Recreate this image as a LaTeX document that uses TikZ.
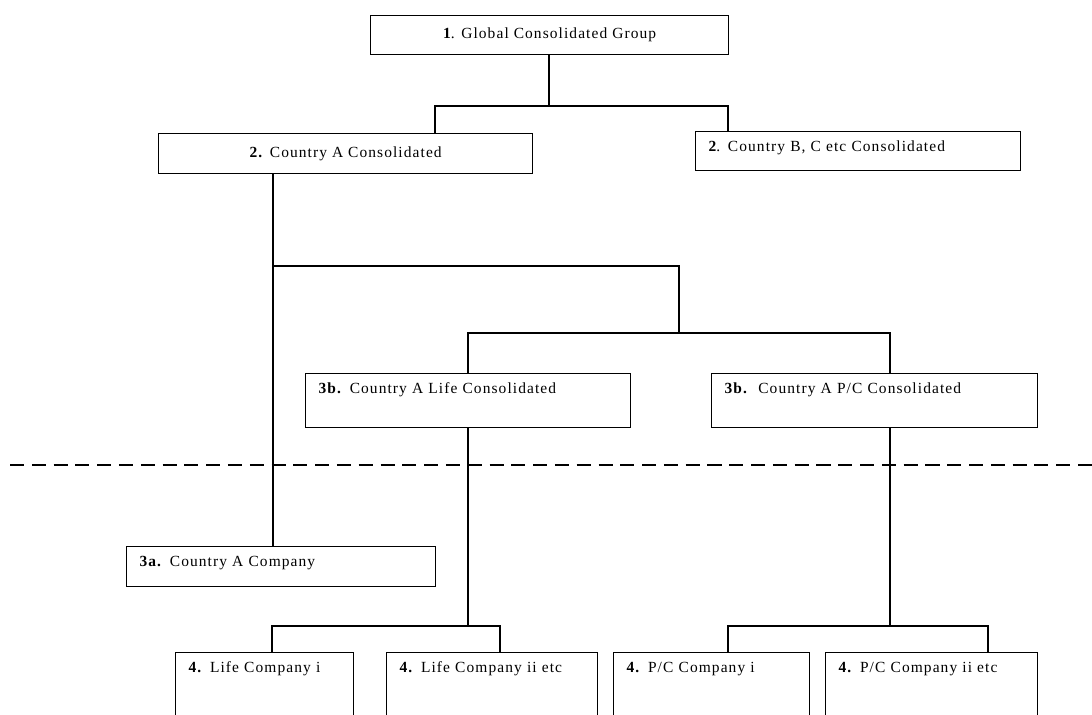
\documentclass[tikz,border=0pt]{standalone}
\usepackage{fontspec}
\setmainfont{Liberation Serif}[LetterSpace=7]
\usepackage{tikz}

\begin{document}
\begin{tikzpicture}[x=0.025cm, y=-0.025cm,
    every node/.style={font=\fontsize{11pt}{13pt}\selectfont},
    link/.style={line width=0.8pt},
    midbox/.style 2 args={draw, line width=0.8pt, anchor=north west, inner sep=0pt,
        minimum width=#1, minimum height=#2},
    leftbox/.style 2 args={draw, line width=0.8pt, anchor=north west, inner xsep=0.325cm,
        inner ysep=0pt, align=left, text height=0.5cm, text width=#1, text depth=#2}]
                \useasboundingbox (0,0) rectangle (1092,715);
                \clip (0,0) rectangle (1092,715);

                % Group level
                \node[midbox={8.95cm}{0.975cm}] (global) at (370,15) {\textbf{1}. Global Consolidated Group};
                \node[midbox={9.35cm}{1.0cm}] (ctryA) at (158,133) {\textbf{2.} Country A Consolidated};
                \node[leftbox={7.475cm}{0.475cm}] (ctryB) at (695,131) {\textbf{2}. Country B, C etc Consolidated};

                % Country A sub-groups
                \node[leftbox={7.475cm}{0.85cm}] (lifeA) at (305,373) {\textbf{3b.} Country A Life Consolidated};
                \node[leftbox={7.5cm}{0.85cm}] (pcA) at (711,373) {\textbf{3b.}\ \ Country A P/C Consolidated};
                \node[leftbox={7.075cm}{0.5cm}] (compA) at (126,546) {\textbf{3a.} Country A Company};

                % Companies (boxes run off the bottom edge)
                \node[leftbox={3.8cm}{1.5cm}] (lifeI) at (175,652) {\textbf{4.} Life Company i};
                \node[leftbox={4.625cm}{1.5cm}] (lifeII) at (386,652) {\textbf{4.} Life Company ii etc};
                \node[leftbox={4.25cm}{1.5cm}] (pcI) at (613,652) {\textbf{4.} P/C Company i};
                \node[leftbox={4.65cm}{1.5cm}] (pcII) at (825,652) {\textbf{4.} P/C Company ii etc};

                % Junctions
                \coordinate (jTop) at (549,106);
                \coordinate (jA) at (273,266);
                \coordinate (jSub) at (679,333);
                \coordinate (jLife) at (468,626);
                \coordinate (jPC) at (890,626);

                % Top tree
                \draw[link] (global.south -| jTop) -- (jTop);
                \draw[link] (jTop) -- ++(-114,0) coordinate (dA) -- (dA |- ctryA.north);
                \draw[link] (jTop) -- ++(179,0) coordinate (dB) -- (dB |- ctryB.north);

                % Country A tree
                \draw[link] (jA |- ctryA.south) -- (jA |- compA.north);
                \draw[link] (jA) -| (jSub);
                \draw[link] (jSub) -- ++(-211,0) coordinate (dL) -- (dL |- lifeA.north);
                \draw[link] (jSub) -- ++(211,0) coordinate (dP) -- (dP |- pcA.north);

                % Life companies
                \draw[link] (jLife |- lifeA.south) -- (jLife);
                \draw[link] (jLife) -- ++(-196,0) coordinate (dLi) -- (dLi |- lifeI.north);
                \draw[link] (jLife) -- ++(32,0) coordinate (dLii) -- (dLii |- lifeII.north);

                % P/C companies
                \draw[link] (jPC |- pcA.south) -- (jPC);
                \draw[link] (jPC) -- ++(-162,0) coordinate (dPi) -- (dPi |- pcI.north);
                \draw[link] (jPC) -- ++(98,0) coordinate (dPii) -- (dPii |- pcII.north);

                % Divide between consolidated and solo level
                \draw[line width=1.2pt, dash pattern=on 10pt off 5.5pt] (10,465) -- (1092,465);

            \end{tikzpicture}
\end{document}
